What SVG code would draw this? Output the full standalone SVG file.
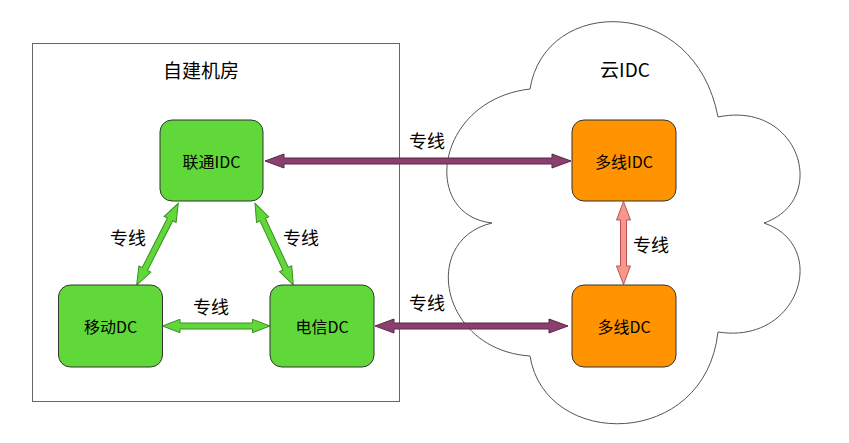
<svg xmlns="http://www.w3.org/2000/svg" width="849" height="443" viewBox="0 0 849 443">
  <style>
    text { font-family: "Noto Sans CJK SC", "Noto Sans", sans-serif; fill: #000; text-anchor: middle; dominant-baseline: central; }
    .title { font-size: 19px; }
    .lbl { font-size: 18px; }
    .nodeText { font-size: 16px; }
    .green { fill: #60D839; stroke: #333; stroke-width: 1; }
    .orange { fill: #FF9300; stroke: #333; stroke-width: 1; }
    .aPurple { fill: #8B3F6E; stroke: #5A2848; stroke-width: 1; }
    .aGreen { fill: #60D839; stroke: #3E8C24; stroke-width: 1; }
    .aPink { fill: #F8958E; stroke: #B85450; stroke-width: 1; }
  </style>
  <rect width="849" height="443" fill="#fff"/>

  <g id="zone-self">
    <rect x="32.5" y="43.5" width="367" height="358" fill="#fff" stroke="#666" stroke-width="1"/>
    <text class="title" x="201" y="69">自建机房</text>
  </g>

  <g id="zone-cloud">
    <path d="M530,89 C545,-5 695,-5 718,117 C800,100 830,200 764,223 C830,245 800,345 718,332 C705,450 545,450 530,356 C440,350 420,240 492,223 C420,215 435,100 530,89 Z" fill="#fff" stroke="#555" stroke-width="1"/>
    <text class="title" x="625" y="68">云IDC</text>
  </g>

  <g id="connectors">
    <path class="aPurple" d="M265,161 L284,154 L284,158 L552,158 L552,154 L571,161 L552,168 L552,164 L284,164 L284,168 Z"/>
    <path class="aPurple" d="M375,326 L394,319 L394,323 L549,323 L549,319 L568,326 L549,333 L549,329 L394,329 L394,333 Z"/>
    <path class="aGreen" d="M162.5,326 L180,319.3 L180,323 L252.5,323 L252.5,319.3 L270,326 L252.5,332.7 L252.5,329 L180,329 L180,332.7 Z"/>
    <path class="aPink" d="M623.5,201.5 L630.5,220 L626.5,220 L626.5,266 L630.5,266 L623.5,284.5 L616.5,266 L620.5,266 L620.5,220 L616.5,220 Z"/>
    <path class="aGreen" transform="translate(178.3,203.3) rotate(117)" d="M0,0 L18,-6.7 L18,-3 L73.7,-3 L73.7,-6.7 L91.7,0 L73.7,6.7 L73.7,3 L18,3 L18,6.7 Z"/>
    <path class="aGreen" transform="translate(255,203.3) rotate(64.9)" d="M0,0 L18,-6.7 L18,-3 L72.2,-3 L72.2,-6.7 L90.2,0 L72.2,6.7 L72.2,3 L18,3 L18,6.7 Z"/>
    <text class="lbl" x="427" y="140">专线</text>
    <text class="lbl" x="427" y="302">专线</text>
    <text class="lbl" x="128" y="237">专线</text>
    <text class="lbl" x="301" y="237">专线</text>
    <text class="lbl" x="211" y="306">专线</text>
    <text class="lbl" x="651" y="244">专线</text>
  </g>

  <g id="node-liantong">
    <rect class="green" x="160" y="120" width="103" height="81" rx="12"/>
    <text class="nodeText" x="211.5" y="161">联通IDC</text>
  </g>
  <g id="node-yidong">
    <rect class="green" x="58.5" y="285" width="104" height="82" rx="12"/>
    <text class="nodeText" x="110.5" y="326">移动DC</text>
  </g>
  <g id="node-dianxin">
    <rect class="green" x="270" y="285" width="104" height="82" rx="12"/>
    <text class="nodeText" x="322" y="326">电信DC</text>
  </g>
  <g id="node-duoxian-idc">
    <rect class="orange" x="572" y="120" width="104" height="81" rx="12"/>
    <text class="nodeText" x="624" y="161">多线IDC</text>
  </g>
  <g id="node-duoxian-dc">
    <rect class="orange" x="572" y="285" width="104" height="82" rx="12"/>
    <text class="nodeText" x="624" y="326">多线DC</text>
  </g>
</svg>
